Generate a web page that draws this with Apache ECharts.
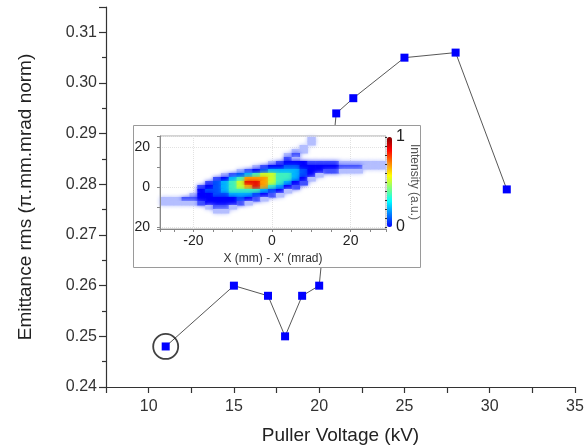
<!DOCTYPE html>
<html><head><meta charset="utf-8">
<script src="https://cdn.jsdelivr.net/npm/echarts@6/dist/echarts.min.js"></script>
<style>html,body{margin:0;padding:0;background:#fff}#c{width:588px;height:445px}</style>
</head><body><div id="c"></div>
<script>
// ---- main chart data ----
const voltage = [11, 15, 17, 18, 19, 20, 21, 22, 25, 28, 31];
const emittance = [0.248, 0.260, 0.258, 0.250, 0.258, 0.260, 0.294, 0.297, 0.305, 0.306, 0.279];
const circledVoltage = [11];
const circledEmittance = [0.248];
const xTickLabels = ['10', '15', '20', '25', '30', '35'];
const yTickLabels = ['0.24', '0.25', '0.26', '0.27', '0.28', '0.29', '0.30', '0.31'];

// ---- inset phase-space image (intensity levels 1..9, '.' = empty) ----
const beamColX = [-28,-26,-24,-22,-20,-18,-16,-14,-12,-10,-8,-6,-4,-2,0,2,4,6,8,10,12,14,16,18,20,22,24,26,28];
const beamRowY = [24,22,20,18,16,14,12,10,8,6,4,2,0,-2,-4,-6,-8,-10,-12,-14,-16,-18,-20];
const beamRows = [
  "...................1.........",
  "...................1.........",
  "..................1..........",
  ".................11..........",
  "................12...........",
  "................21...........",
  "..............123332222111111",
  "............12334433333222111",
  "..........1234555543322111...",
  "........1245677665431........",
  ".......2356888766531.........",
  "......2456799876532..........",
  ".....2345678986532...........",
  ".....344566665431............",
  "....133445554321.............",
  "11122333334321...............",
  "111112333321.................",
  "......1221...................",
  ".......11....................",
  ".............................",
  ".............................",
  ".............................",
  "............................."
];
const insetXTickLabels = ['-20', '0', '20'];
const insetYTickLabels = ['20', '0', '20'];
const colorbarLabels = ['0', '1'];

const beamData = [];
beamRows.forEach((row, r) => {
  for (let i = 0; i < row.length; i++) {
    const ch = row[i];
    if (ch !== '.') beamData.push([beamColX[i], beamRowY[r], Number(ch)]);
  }
});

const FONT = 'Liberation Sans';
const chart = echarts.init(document.getElementById('c'), null, {renderer: 'canvas'});

function renderCell(params, api) {
  const x = api.value(0), y = api.value(1);
  const p0 = api.coord([x - 1, y + 1]);
  const p1 = api.coord([x + 1, y - 1]);
  const cs = params.coordSys;
  const rect = echarts.graphic.clipRectByRect(
    {x: p0[0], y: p0[1], width: p1[0] - p0[0] + 0.5, height: p1[1] - p0[1] + 0.5},
    {x: cs.x, y: cs.y, width: cs.width, height: cs.height});
  if (!rect) return;
  const c = api.visual('color');
  return {type: 'rect', shape: rect, style: {fill: c, shadowBlur: 4, shadowColor: c}};
}

const jet = ['#0000ff', '#0080ff', '#00ffff', '#80ff80', '#ffff00', '#ff8000', '#ff0000', '#800000'];

chart.setOption({
  animation: false,
  backgroundColor: '#fff',
  grid: [
    {left: 106, right: 13, top: 7, bottom: 58, outerBoundsMode: 'none', containLabel: false},
    {left: 160, top: 136, width: 226, height: 93, show: true, borderColor: '#a8a8a8', borderWidth: 1, backgroundColor: 'transparent', z: 10, outerBoundsMode: 'none', containLabel: false},
    {left: 387, top: 137, width: 5, height: 90, z: 10, outerBoundsMode: 'none', containLabel: false}
  ],
  graphic: [
    {type: 'rect', left: 133, top: 125, z: 5,
     shape: {width: 287, height: 142},
     style: {fill: '#fff', stroke: '#9a9a9a', lineWidth: 1}}
  ],
  xAxis: [
    {type: 'value', gridIndex: 0, min: 7.5, max: 35, interval: 2.5,
     name: 'Puller Voltage (kV)', nameLocation: 'middle', nameGap: 39,
     nameTextStyle: {fontFamily: FONT, fontSize: 19, color: '#222'},
     axisLine: {show: true, onZero: false, lineStyle: {color: '#333', width: 1.2}},
     axisTick: {show: true, length: 6, lineStyle: {color: '#333', width: 1.2}},
     axisLabel: {fontFamily: FONT, fontSize: 16, color: '#333', margin: 12,
       formatter: v => { const s = String(Math.round(v * 10) / 10); return xTickLabels.includes(s) ? s : ''; }},
     splitLine: {show: false}},
    {type: 'value', gridIndex: 1, min: -28.5, max: 29, splitNumber: 3, z: 10,
     name: "X (mm) - X' (mrad)", nameLocation: 'middle', nameGap: 24,
     nameTextStyle: {fontFamily: FONT, fontSize: 12, color: '#333'},
     axisLine: {show: true, onZero: false, lineStyle: {color: '#888', width: 1}},
     axisTick: {show: true, length: 3, lineStyle: {color: '#888'}},
     minorTick: {show: true, splitNumber: 4, length: 3, lineStyle: {color: '#888'}},
     axisLabel: {fontFamily: FONT, fontSize: 14, color: '#222', margin: 5, showMinLabel: false, showMaxLabel: false,
       formatter: v => { const s = String(v); return insetXTickLabels.includes(s) ? s : ''; }},
     splitLine: {show: true, lineStyle: {color: '#e2e2e2', width: 1, type: 'dotted'}}},
    {type: 'value', gridIndex: 2, min: 0, max: 1, show: false}
  ],
  yAxis: [
    {type: 'value', gridIndex: 0, min: 0.24, max: 0.315, interval: 0.01,
     name: 'Emittance rms (π.mm.mrad norm)', nameLocation: 'middle', nameGap: 71,
     nameTextStyle: {fontFamily: FONT, fontSize: 19, color: '#222'},
     axisLine: {show: true, lineStyle: {color: '#333', width: 1.2}},
     axisTick: {show: true, length: 7, lineStyle: {color: '#333', width: 1.2}},
     minorTick: {show: true, splitNumber: 2, length: 4, lineStyle: {color: '#333', width: 1.2}},
     axisLabel: {fontFamily: FONT, fontSize: 16, color: '#333', margin: 9, showMaxLabel: false,
       formatter: v => { const s = v.toFixed(2); return yTickLabels.includes(s) ? s : ''; }},
     splitLine: {show: false}},
    {type: 'value', gridIndex: 1, min: -21, max: 25.5, splitNumber: 2, z: 10,
     axisLine: {show: true, onZero: false, lineStyle: {color: '#888', width: 1}},
     axisTick: {show: true, length: 3, lineStyle: {color: '#888'}},
     minorTick: {show: true, splitNumber: 2, length: 3, lineStyle: {color: '#888'}},
     axisLabel: {fontFamily: FONT, fontSize: 14, color: '#222', margin: 10, showMinLabel: false, showMaxLabel: false,
       formatter: v => { const s = String(Math.abs(v)); return insetYTickLabels.includes(s) ? s : ''; }},
     splitLine: {show: true, lineStyle: {color: '#e2e2e2', width: 1, type: 'dotted'}}},
    {type: 'value', gridIndex: 2, min: 0, max: 1, interval: 1, position: 'right', z: 10,
     name: 'Intensity (a.u.)', nameLocation: 'middle', nameRotate: -90, nameGap: 13,
     nameTextStyle: {fontFamily: FONT, fontSize: 12, color: '#555'},
     axisLine: {show: false},
     axisTick: {show: true, inside: true, length: 2, lineStyle: {color: '#333'}},
     minorTick: {show: true, splitNumber: 10, length: 2, lineStyle: {color: '#333'}},
     axisLabel: {fontFamily: FONT, fontSize: 16, color: '#222', margin: 4,
       formatter: v => { const s = String(v); return colorbarLabels.includes(s) ? s : ''; }},
     splitLine: {show: false}}
  ],
  visualMap: [
    {type: 'continuous', seriesIndex: 2, dimension: 2, show: false, min: 1, max: 9,
     inRange: {color: ['#b4beff', '#4050ff', '#0000ff', '#0050ff', '#00b4ff', '#40f0c0', '#c8ff30', '#ffa000', '#e81000']}},
    {type: 'continuous', seriesIndex: 3, show: true, min: 0, max: 1, left: 387, top: 137,
     itemWidth: 5, itemHeight: 90, padding: 0, text: null, calculable: false, hoverLink: false, z: 10,
     inRange: {color: jet}}
  ],
  series: [
    {type: 'line', xAxisIndex: 0, yAxisIndex: 0, z: 2,
     data: voltage.map((v, i) => [v, emittance[i]]),
     symbol: 'rect', symbolSize: 8,
     lineStyle: {color: '#444', width: 0.9},
     itemStyle: {color: '#0000ff', borderWidth: 0}},
    {type: 'scatter', xAxisIndex: 0, yAxisIndex: 0, z: 3,
     data: circledVoltage.map((v, i) => [v, circledEmittance[i]]),
     symbol: 'circle', symbolSize: 25,
     itemStyle: {color: 'transparent', borderColor: '#111', borderWidth: 1.8}},
    {type: 'custom', xAxisIndex: 1, yAxisIndex: 1, z: 10,
     renderItem: renderCell, data: beamData, encode: {x: 0, y: 1}},
    {type: 'scatter', xAxisIndex: 2, yAxisIndex: 2, z: 10, data: []}
  ]
});
</script></body></html>
